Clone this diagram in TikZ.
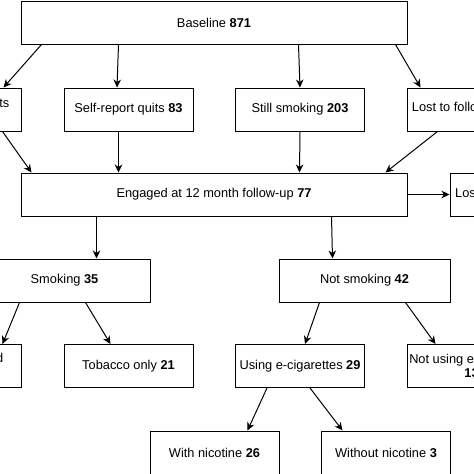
\documentclass[tikz,border=0pt]{standalone}
\usepackage{fontspec}
\setmainfont{Liberation Sans}
\usetikzlibrary{arrows.meta}
\begin{document}
\begin{tikzpicture}[x=1pt,y=-1pt,
  every node/.style={font=\fontsize{12.8pt}{14.5pt}\selectfont, inner sep=0pt},
  box/.style={draw=black, line width=1pt, minimum height=43pt, align=center},
  wbox/.style={box, minimum width=129pt},
  arr/.style={draw=black, line width=1pt, -{Stealth[length=8pt,width=7.5pt,inset=2.5pt]}},
  frag/.style={anchor=base east}
]
\useasboundingbox (0,0) rectangle (474,474);
\clip (0,0) rectangle (474,474);
\fill[white] (0,0) rectangle (474,474);
% row 1
\node[box, minimum width=386pt] (base) at (214,22.5) {Baseline \textbf{871}};
% row 2
\node[wbox] (l2) at (-43.5,109.5) {};
\node[frag] (l2t) at (9.5,107) {ts};
\node[wbox] (sr) at (128.5,109.5) {Self-report quits \textbf{83}};
\node[wbox] (ss) at (300,109.5) {Still smoking \textbf{203}};
\node[wbox] (lost2) at (471.5,109.5) {};
\node[anchor=west] (lost2t) at (411.7,108.5) {Lost to follow-up};
% row 3
\node[box, minimum width=386pt] (eng) at (214,194.5) {Engaged at 12 month follow-up \textbf{77}};
\node[wbox] (lost3) at (514.5,194.5) {};
\node[anchor=west] (lost3t) at (455,194.5) {Lost to follow-up};
% row 4
\node[box, minimum width=171pt] (smk) at (64.5,280.5) {Smoking \textbf{35}};
\node[box, minimum width=171pt] (ns) at (364.5,280.5) {Not smoking \textbf{42}};
% row 5
\node[wbox] (l5) at (-43.5,366) {};
\node[frag] (l5t) at (3.5,362) {d};
\node[wbox] (tob) at (128.5,366) {Tobacco only \textbf{21}};
\node[wbox] (use) at (300,366) {Using e-cigarettes \textbf{29}};
\node[wbox] (nu) at (471.5,366) {Not using e-cigarettes\\\textbf{13}};
% row 6
\node[wbox] (wn) at (214.5,452.5) {With nicotine \textbf{26}};
\node[wbox] (won) at (386,452.5) {Without nicotine \textbf{3}};
% connectors
\draw[arr] ([xshift=21pt]base.south west) -- ([xshift=-18pt]l2.north east);
\draw[arr] ([xshift=98pt]base.south west) -- ([xshift=-11.5pt]sr.north);
\draw[arr] ([xshift=278pt]base.south west) -- (ss.north);
\draw[arr] ([xshift=-12pt]base.south east) -- ([xshift=14pt]lost2.north west);
\draw[arr] ([xshift=-19pt]l2.south east) -- ([xshift=11pt]eng.north west);
\draw[arr] ([xshift=55pt]sr.south west) -- ([xshift=98pt]eng.north west);
\draw[arr] (ss.south) -- ([xshift=279pt]eng.north west);
\draw[arr] ([xshift=31pt]lost2.south west) -- ([xshift=-22pt]eng.north east);
\draw[arr] (eng.east) -- (lost3.west);
\draw[arr] ([xshift=76pt]eng.south west) -- ([xshift=118pt]smk.north west);
\draw[arr] ([xshift=311pt]eng.south west) -- ([xshift=54pt]ns.north west);
\draw[arr] ([xshift=41pt]smk.south west) -- ([xshift=-19pt]l5.north east);
\draw[arr] ([xshift=107pt]smk.south west) -- ([xshift=47pt]tob.north west);
\draw[arr] ([xshift=41pt]ns.south west) -- ([xshift=70pt]use.north west);
\draw[arr] ([xshift=127pt]ns.south west) -- ([xshift=29pt]nu.north west);
\draw[arr] ([xshift=32pt]use.south west) -- ([xshift=98pt]wn.north west);
\draw[arr] ([xshift=75pt]use.south west) -- ([xshift=21.5pt]won.north west);
\end{tikzpicture}
\end{document}
